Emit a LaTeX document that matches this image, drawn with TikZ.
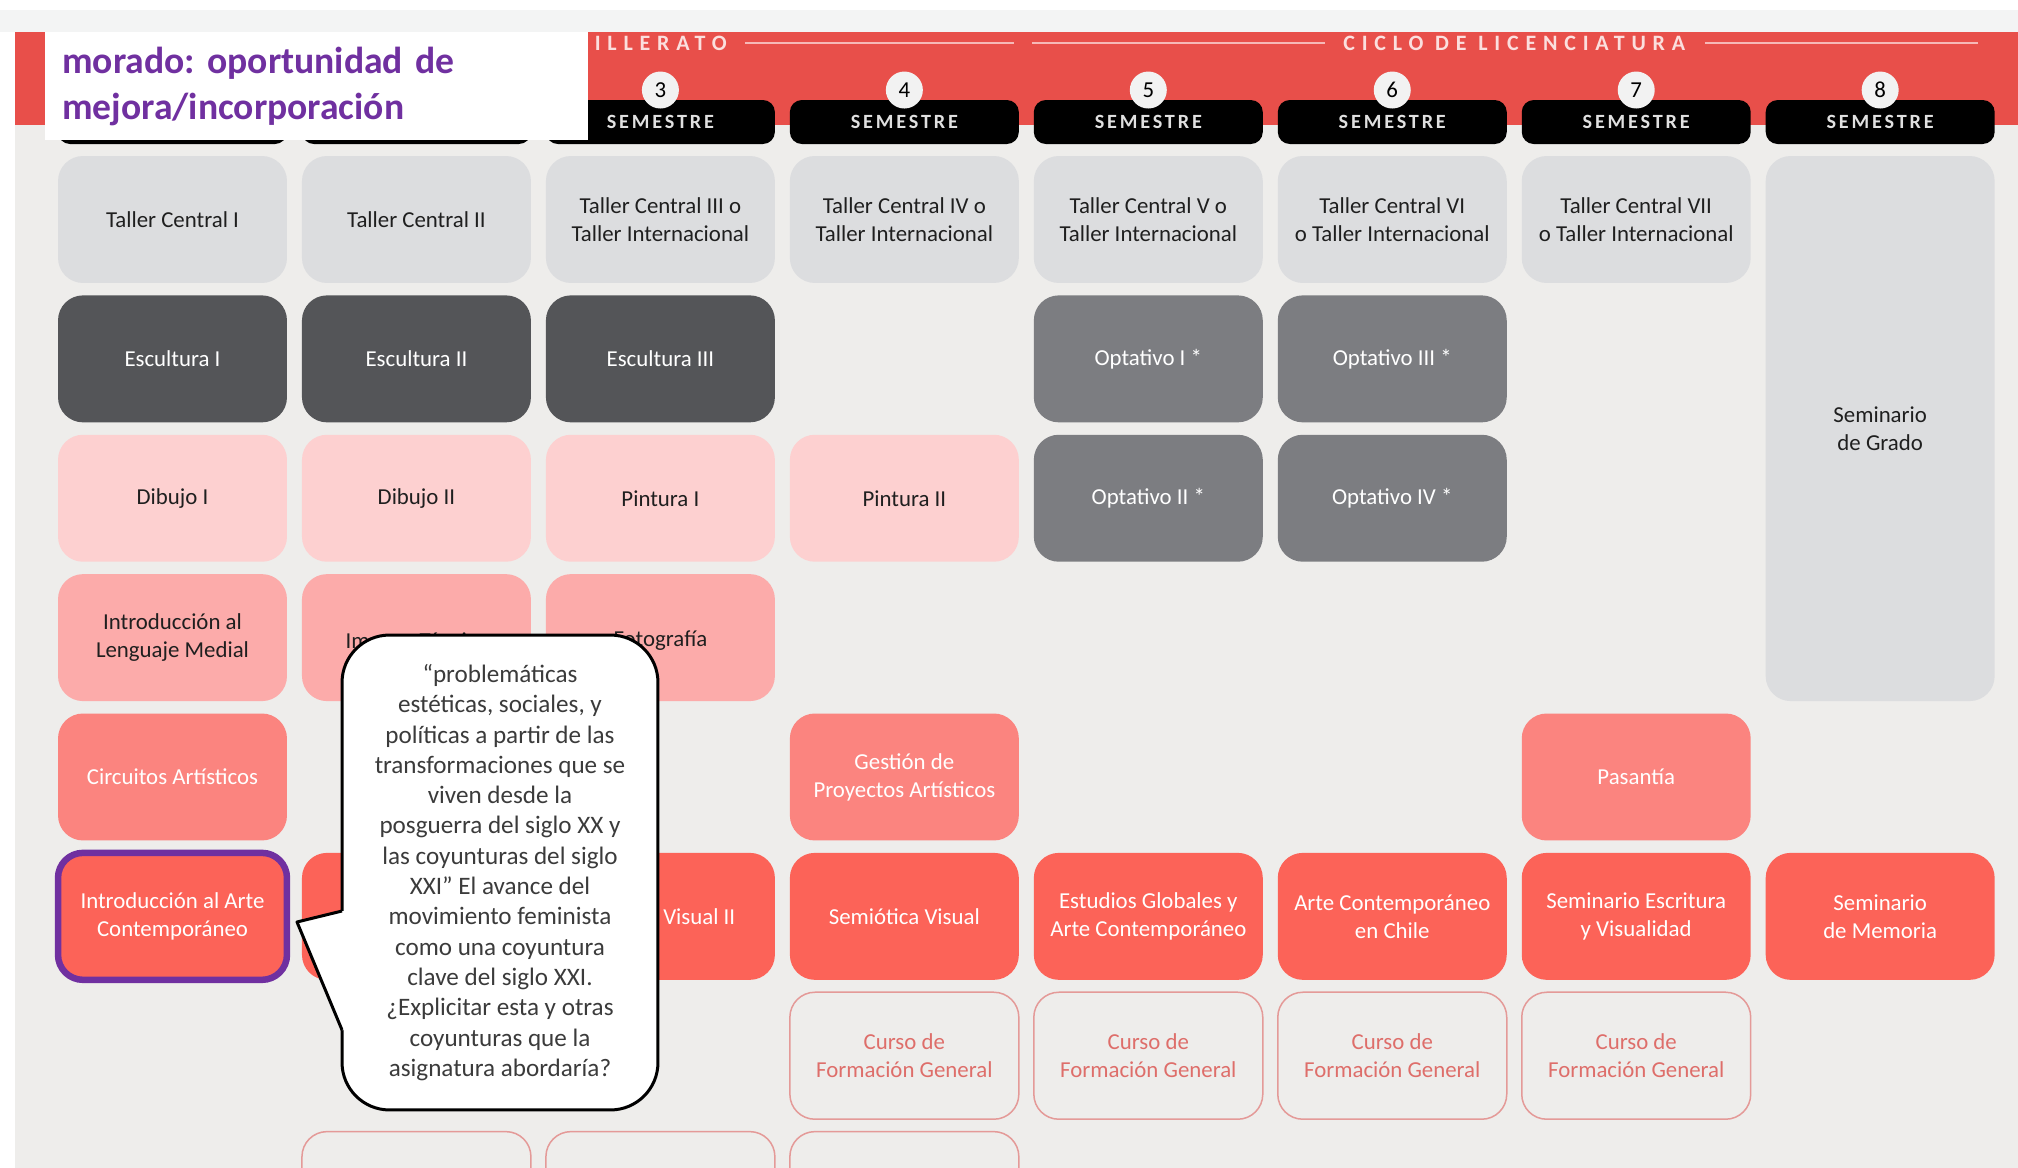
\documentclass[tikz,border=0pt]{standalone}
\usepackage{fontspec}
\setmainfont{Carlito}
\newfontfamily\tabfont[LetterSpace=14]{Carlito}
\newfontfamily\ciclofont[LetterSpace=31]{Carlito}
\usepackage{xcolor}
\usetikzlibrary{positioning,calc}
\frenchspacing
\definecolor{bandred}{HTML}{E84F4A}
\definecolor{topgray}{HTML}{F3F4F4}
\definecolor{panelgray}{HTML}{EEEDEB}
\definecolor{tallergray}{HTML}{DCDDDF}
\definecolor{esculturagray}{HTML}{545558}
\definecolor{optativogray}{HTML}{7C7D81}
\definecolor{palepink}{HTML}{FDD0D0}
\definecolor{midpink}{HTML}{FCABAA}
\definecolor{salmonpink}{HTML}{FB847F}
\definecolor{coral}{HTML}{FC6358}
\definecolor{fgline}{HTML}{E49A98}
\definecolor{fgtext}{HTML}{DE6E6A}
\definecolor{morado}{HTML}{7030A0}
\definecolor{notetext}{HTML}{3B3B3B}

\begin{document}
\begin{tikzpicture}[x=0.02cm, y=-0.02cm, node distance=0.248cm and 0.3cm,
course/.style={rectangle, rounded corners=0.5cm, minimum width=4.58cm, minimum height=2.54cm, inner sep=0pt, outer sep=0pt, align=center, font=\fontsize{13}{15.9}\selectfont},
taller/.style={course, fill=tallergray, text=black!88},
escultura/.style={course, fill=esculturagray, text=white},
optativo/.style={course, fill=optativogray, text=white},
dibujo/.style={course, fill=palepink, text=black!88},
medial/.style={course, fill=midpink, text=black!88},
gestion/.style={course, fill=salmonpink, text=white},
teoria/.style={course, fill=coral, text=white},
formacion/.style={course, draw=fgline, line width=0.03cm, text=fgtext},
semestre/.style={rectangle, rounded corners=0.24cm, fill=black, minimum width=4.58cm, minimum height=0.88cm, inner sep=0pt, outer sep=0pt, text=white!88!black, font=\tabfont\bfseries\fontsize{11.5}{12}\selectfont},
numero/.style={circle, fill=black!5, minimum size=0.74cm, inner sep=0pt, font=\fontsize{13}{13}\selectfont},
ciclo/.style={inner sep=0pt, text=white!82!bandred, font=\ciclofont\bfseries\fontsize{12.5}{12.5}\selectfont},
rule/.style={draw=white!60!bandred, line width=0.04cm},
leyenda/.style={rectangle, fill=white, minimum width=10.86cm, minimum height=2.16cm, text width=10.18cm, inner xsep=0.34cm, inner ysep=0pt, align=left, text=morado, font=\bfseries\fontsize{21.4}{26.2}\selectfont},
nota/.style={rectangle, rounded corners=0.95cm, fill=white, draw=black, line width=0.06cm, outer sep=0pt, minimum width=6.32cm, minimum height=9.5cm, align=center, text=notetext, font=\fontsize{14.3}{17.25}\selectfont}]
\clip (0,0) rectangle (2018,1168);
\fill[white] (0,0) rectangle (2018,1168);
\fill[topgray] (0,10) rectangle (2018,32);
\fill[panelgray] (15,32) rectangle (2018,1168);
\fill[bandred] (15,32) rectangle (2018,125);

% Courses

\node[taller] (taller1) at (172.5,219.5) {Taller Central I};
\node[taller, right=of taller1] (taller2) {Taller Central II};
\node[taller, right=of taller2] (taller3) {Taller Central III o\\Taller Internacional};
\node[taller, right=of taller3] (taller4) {Taller Central IV o\\Taller Internacional};
\node[taller, right=of taller4] (taller5) {Taller Central V o\\Taller Internacional};
\node[taller, right=of taller5] (taller6) {Taller Central VI\\o Taller Internacional};
\node[taller, right=of taller6] (taller7) {Taller Central VII\\o Taller Internacional};
\node[taller, minimum height=10.904cm, right=of taller7.north east, anchor=north west] (grado) {Seminario\\de Grado};

\node[escultura, below=of taller1] (escultura1) {Escultura I};
\node[escultura, right=of escultura1] (escultura2) {Escultura II};
\node[escultura, right=of escultura2] (escultura3) {Escultura III};
\node[optativo, below=of taller5] (optativo1) {Optativo I *};
\node[optativo, right=of optativo1] (optativo3) {Optativo III *};

\node[dibujo, below=of escultura1] (dibujo1) {Dibujo I};
\node[dibujo, right=of dibujo1] (dibujo2) {Dibujo II};
\node[dibujo, right=of dibujo2] (pintura1) {Pintura I};
\node[dibujo, right=of pintura1] (pintura2) {Pintura II};
\node[optativo, below=of optativo1] (optativo2) {Optativo II *};
\node[optativo, right=of optativo2] (optativo4) {Optativo IV *};

\node[medial, below=of dibujo1] (lenguaje) {Introducción al\\Lenguaje Medial};
\node[medial, right=of lenguaje, text height=0.42cm, text depth=0pt] (imagen) {Imagen Técnica};
\node[medial, right=of imagen, text height=0.36cm, text depth=0pt] (fotografia) {Fotografía};

\node[gestion, below=of lenguaje] (circuitos) {Circuitos Artísticos};

\node[teoria, draw=morado, line width=0.13cm, below=of circuitos] (artecontemporaneo) {Introducción al Arte\\Contemporáneo};
\node[teoria, right=of artecontemporaneo] (teoria2) {};
\node[teoria, right=of teoria2] (teoria3) {};
\node[anchor=west, inner sep=0pt, text=white, font=\fontsize{13}{15.9}\selectfont] (visual) at ([xshift=0.05cm]teoria3.center) {Visual II};
\node[teoria, right=of teoria3] (semiotica) {Semiótica Visual};
\node[teoria, right=of semiotica] (globales) {Estudios Globales y\\Arte Contemporáneo};
\node[teoria, right=of globales] (chile) {Arte Contemporáneo\\en Chile};
\node[teoria, right=of chile] (escritura) {Seminario Escritura\\y Visualidad};
\node[teoria, right=of escritura] (memoria) {Seminario\\de Memoria};

\node[gestion, above=of semiotica] (proyectos) {Gestión de\\Proyectos Artísticos};
\node[gestion, above=of escritura] (pasantia) {Pasantía};

\node[formacion, below=of semiotica] (formacion4) {Curso de\\Formación General};
\node[formacion, right=of formacion4] (formacion5) {Curso de\\Formación General};
\node[formacion, right=of formacion5] (formacion6) {Curso de\\Formación General};
\node[formacion, right=of formacion6] (formacion7) {Curso de\\Formación General};
\node[formacion, below=of formacion4] (extra4) {};
\node[formacion, left=of extra4] (extra3) {};
\node[formacion, left=of extra3] (extra2) {};

% Semesters

\node[semestre, above=0.24cm of taller1] (sem1) {};
\node[semestre, right=of sem1] (sem2) {};
\node[semestre, right=of sem2] (sem3) {SEMESTRE};
\node[semestre, right=of sem3] (sem4) {SEMESTRE};
\node[semestre, right=of sem4] (sem5) {SEMESTRE};
\node[semestre, right=of sem5] (sem6) {SEMESTRE};
\node[semestre, right=of sem6] (sem7) {SEMESTRE};
\node[semestre, right=of sem7] (sem8) {SEMESTRE};

\node[numero] (num3) at ([yshift=0.2cm]sem3.north) {3};
\node[numero] (num4) at ([yshift=0.2cm]sem4.north) {4};
\node[numero] (num5) at ([yshift=0.2cm]sem5.north) {5};
\node[numero] (num6) at ([yshift=0.2cm]sem6.north) {6};
\node[numero] (num7) at ([yshift=0.2cm]sem7.north) {7};
\node[numero] (num8) at ([yshift=0.2cm]sem8.north) {8};

\node[ciclo, anchor=east] (bachillerato) at (727,43) {ILLERATO};
\coordinate (licmid) at ($(sem5.west)!0.5!(sem8.east)$);
\node[ciclo] (licenciatura) at (licmid |- bachillerato) {CICLO DE LICENCIATURA};

\draw[rule] ([xshift=0.36cm]bachillerato.east) -- ($(sem4.east |- bachillerato)+(-5,0)$);
\draw[rule] ($(sem5.west |- bachillerato)+(-2,0)$) -- ([xshift=-0.36cm]licenciatura.west);
\draw[rule] ([xshift=0.4cm]licenciatura.east) -- ($(sem8.east |- bachillerato)+(-17,0)$);

% Legend

\node[leyenda, anchor=north west] (leyenda) at (45,32) {morado: oportunidad de\\mejora/incorporación};

% Note

\node[nota] (nota) at (500,872.5) {“problemáticas\\estéticas, sociales, y\\políticas a partir de las\\transformaciones que se\\viven desde la\\posguerra del siglo XX y\\las coyunturas del siglo\\XXI” El avance del\\movimiento feminista\\como una coyuntura\\clave del siglo XXI.\\¿Explicitar esta y otras\\coyunturas que la\\asignatura abordaría?};
\coordinate (punta) at (297,922);
\fill[white] ($(nota.west)+(0,38.5)$) -- (punta) -- ($(nota.west)+(0,157.5)$) -- ($(nota.west)+(6,157.5)$) -- ($(nota.west)+(6,38.5)$) -- cycle;
\draw[line width=0.06cm, line join=round] ($(nota.west)+(0,38.5)$) -- (punta) -- ($(nota.west)+(0,157.5)$);
\end{tikzpicture}
\end{document}
